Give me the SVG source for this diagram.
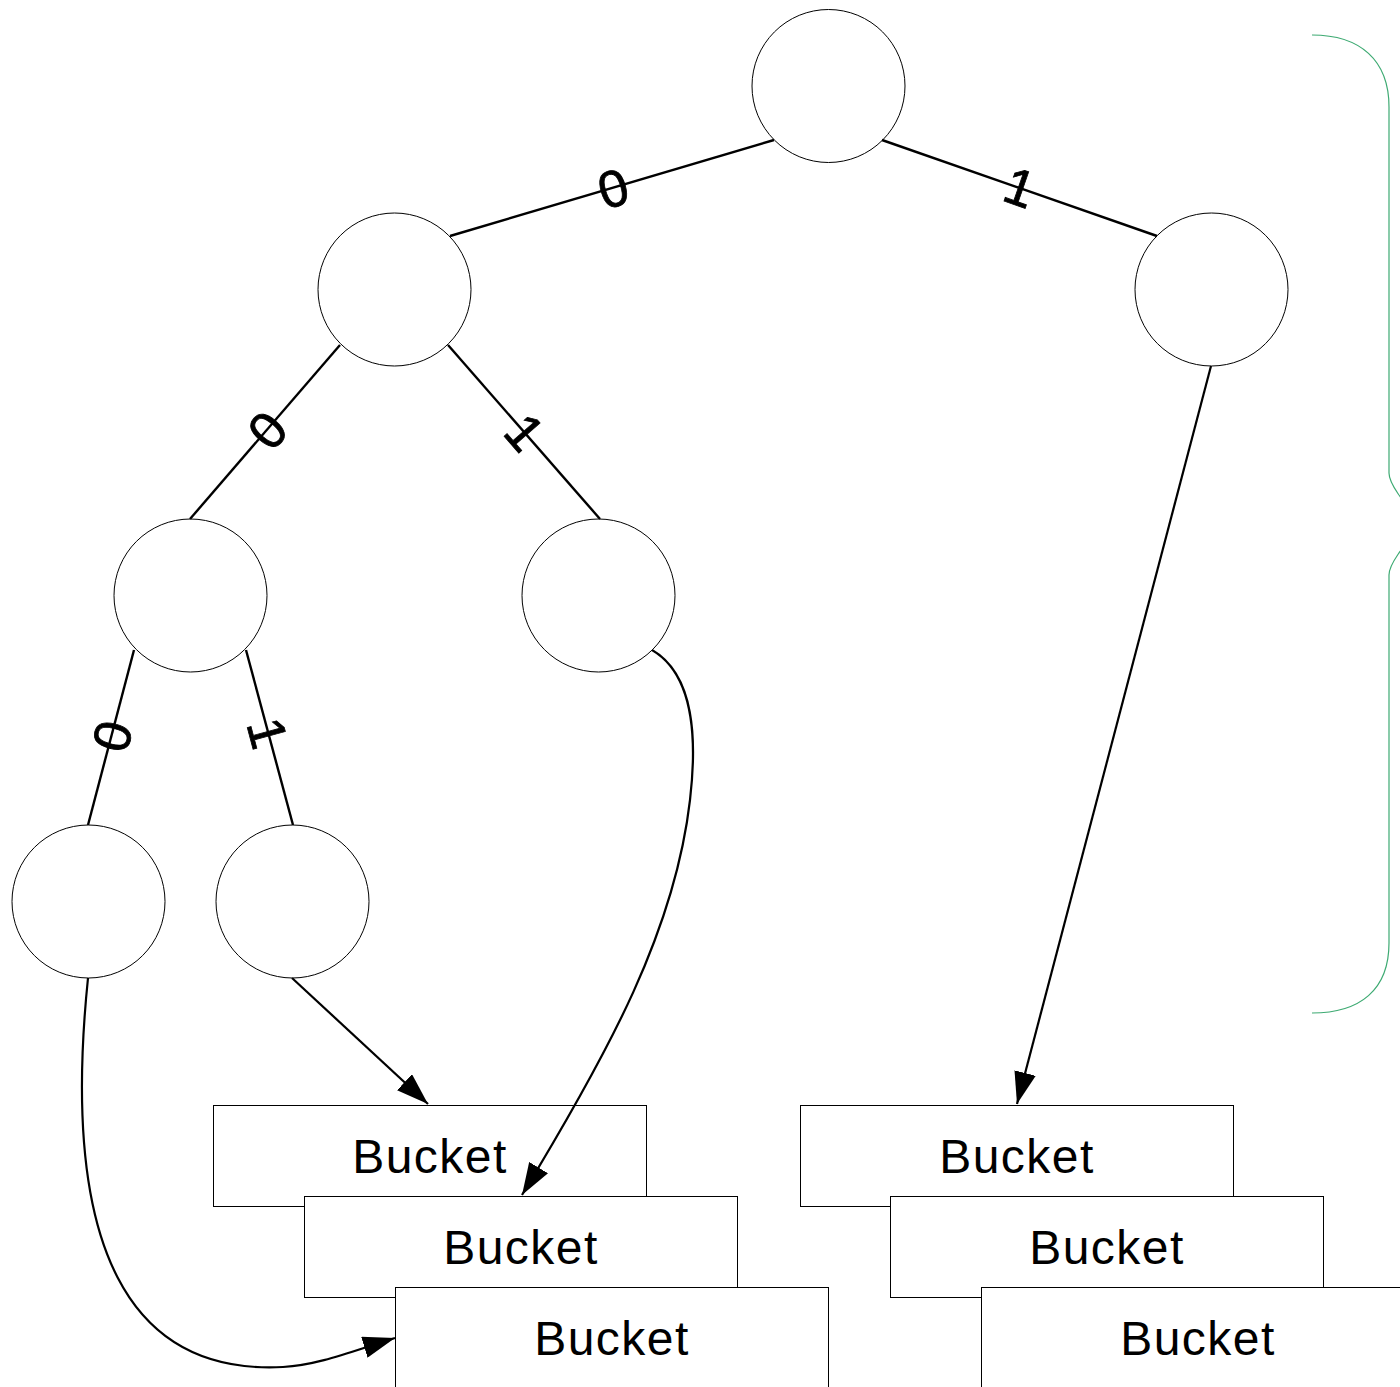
<svg xmlns="http://www.w3.org/2000/svg" width="1400" height="1387" viewBox="0 0 1400 1387">
<style>
.node{fill:#fff;stroke:#000;stroke-width:1}
.bucket{fill:#fff;stroke:#000;stroke-width:1}
.btxt{font-family:"Liberation Sans",Arial,sans-serif;font-size:48px;letter-spacing:1.5px;text-anchor:middle;fill:#000}
.edge{fill:none;stroke:#000;stroke-width:2.4}
.arrow{fill:none;stroke:#000;stroke-width:2.2;marker-end:url(#ah)}
.lbl{font-family:"Liberation Sans",Arial,sans-serif;font-size:52px;text-anchor:middle;fill:#000;stroke:#000;stroke-width:0.8}
.brace{fill:none;stroke:#3daa72;stroke-width:1.2}
</style>
<defs>
<marker id="ah" markerUnits="userSpaceOnUse" markerWidth="32" markerHeight="22" viewBox="0 0 32 22" refX="32" refY="11" orient="auto">
<path d="M0,0 L32,11 L0,22 z" fill="#000"/>
</marker>
</defs>
<rect width="1400" height="1387" fill="#fff"/>
<g id="brace">
<path class="brace" d="M1312,35 C1360,35 1389,60 1389,107 L1389,473 C1389,480 1400,505 1430,524"/>
<path class="brace" d="M1430,524 C1400,543 1389,568 1389,575 L1389,943 C1389,990 1360,1013 1312,1013"/>
</g>
<g id="nodes">
<g id="n-root"><circle class="node" cx="828.5" cy="86" r="76.5"/></g>
<g id="n-0"><circle class="node" cx="394.5" cy="289.5" r="76.5"/></g>
<g id="n-1"><circle class="node" cx="1211.5" cy="289.5" r="76.5"/></g>
<g id="n-00"><circle class="node" cx="190.5" cy="595.5" r="76.5"/></g>
<g id="n-01"><circle class="node" cx="598.5" cy="595.5" r="76.5"/></g>
<g id="n-000"><circle class="node" cx="88.5" cy="901.5" r="76.5"/></g>
<g id="n-001"><circle class="node" cx="292.5" cy="901.5" r="76.5"/></g>
<g id="bucket-l1"><rect class="bucket" x="213.5" y="1105.5" width="433" height="101"/><text class="btxt" x="430" y="1173">Bucket</text></g>
<g id="bucket-l2"><rect class="bucket" x="304.5" y="1196.5" width="433" height="101"/><text class="btxt" x="521" y="1264">Bucket</text></g>
<g id="bucket-l3"><rect class="bucket" x="395.5" y="1287.5" width="433" height="101"/><text class="btxt" x="612" y="1355">Bucket</text></g>
<g id="bucket-r1"><rect class="bucket" x="800.5" y="1105.5" width="433" height="101"/><text class="btxt" x="1017" y="1173">Bucket</text></g>
<g id="bucket-r2"><rect class="bucket" x="890.5" y="1196.5" width="433" height="101"/><text class="btxt" x="1107" y="1264">Bucket</text></g>
<g id="bucket-r3"><rect class="bucket" x="981.5" y="1287.5" width="433" height="101"/><text class="btxt" x="1198" y="1355">Bucket</text></g>
</g>
<g id="connectors">
<line class="edge" x1="774" y1="140" x2="450" y2="236"/>
<line class="edge" x1="882" y1="140" x2="1157" y2="236"/>
<line class="edge" x1="340" y1="345" x2="190" y2="519"/>
<line class="edge" x1="448" y1="345" x2="600" y2="519"/>
<line class="edge" x1="134" y1="650" x2="88" y2="825"/>
<line class="edge" x1="246" y1="650" x2="293" y2="825"/>
<path class="arrow" d="M292,978 L428,1104"/>
<path class="arrow" d="M1211,366 L1017,1104"/>
<path class="arrow" d="M652,650 C695,675 697,740 690,800 C675,930 610,1050 522,1195"/>
<path class="arrow" d="M88,978 C60,1250 130,1375 283,1367 C320,1365 355,1350 395,1338"/>
<text class="lbl" transform="translate(613,188) rotate(-16.5)" y="18.6">0</text>
<text class="lbl" transform="translate(1020,187) rotate(19.2)" y="18.6">1</text>
<text class="lbl" transform="translate(267,430) rotate(-49.2)" y="18.6">0</text>
<text class="lbl" transform="translate(525,432) rotate(48.9)" y="18.6">1</text>
<text class="lbl" transform="translate(112,736) rotate(-75.3)" y="18.6">0</text>
<text class="lbl" transform="translate(268,733) rotate(75)" y="18.6">1</text>
</g>
</svg>
